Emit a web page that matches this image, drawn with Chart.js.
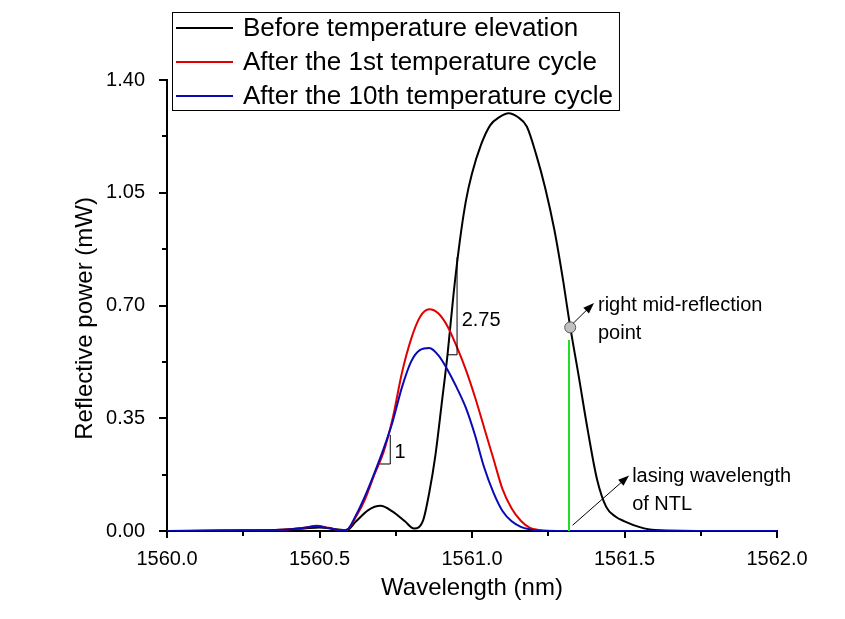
<!DOCTYPE html>
<html>
<head>
<meta charset="utf-8">
<script src="https://cdn.jsdelivr.net/npm/chart.js@4.4.0/dist/chart.umd.min.js"></script>
<style>
html, body { margin: 0; padding: 0; background: #fff; }
#wrap { width: 845px; height: 619px; }
</style>
</head>
<body>
<div id="wrap"><canvas id="spectrum" width="845" height="619"></canvas></div>
<script>
// series (wavelength in nm, power in mW)
const wlBefore = [1560.00, 1560.20, 1560.38, 1560.45, 1560.50, 1560.55, 1560.59, 1560.62, 1560.66, 1560.70,
    1560.74, 1560.78, 1560.81, 1560.84, 1560.86, 1560.88, 1560.90, 1560.92, 1560.94, 1560.96, 1560.98, 1561.00,
    1561.03, 1561.06, 1561.09, 1561.12, 1561.15, 1561.18, 1561.21, 1561.24, 1561.27, 1561.30, 1561.32, 1561.35,
    1561.38, 1561.41, 1561.44, 1561.47, 1561.50, 1561.55, 1561.60, 1561.80, 1562.00];
const pBefore = [0, 0.001, 0.004, 0.008, 0.011, 0.006, 0.003, 0.030, 0.065, 0.078,
    0.060, 0.030, 0.008, 0.034, 0.120, 0.235, 0.390, 0.550, 0.740, 0.900, 1.025, 1.110,
    1.200, 1.260, 1.285, 1.297, 1.285, 1.255, 1.170, 1.065, 0.935, 0.770, 0.645, 0.480,
    0.310, 0.160, 0.075, 0.045, 0.030, 0.012, 0.003, 0, 0];

const wlCycle1 = [1560.00, 1560.20, 1560.38, 1560.45, 1560.49, 1560.53, 1560.57, 1560.59, 1560.62, 1560.65,
    1560.68, 1560.71, 1560.74, 1560.77, 1560.80, 1560.83, 1560.86, 1560.89, 1560.92, 1560.95, 1560.98,
    1561.01, 1561.04, 1561.07, 1561.10, 1561.13, 1561.16, 1561.19, 1561.22, 1561.25, 1561.40, 1561.60, 1562.00];
const pCycle1 = [0, 0.001, 0.004, 0.010, 0.016, 0.010, 0.002, 0.004, 0.045, 0.100,
    0.175, 0.245, 0.350, 0.490, 0.595, 0.665, 0.688, 0.675, 0.635, 0.572, 0.500,
    0.415, 0.320, 0.225, 0.130, 0.070, 0.032, 0.010, 0.003, 0.001, 0, 0, 0];

const wlCycle10 = [1560.00, 1560.18, 1560.38, 1560.45, 1560.49, 1560.53, 1560.57, 1560.59, 1560.62, 1560.65,
    1560.68, 1560.71, 1560.74, 1560.77, 1560.80, 1560.83, 1560.86, 1560.89, 1560.92, 1560.95, 1560.98,
    1561.01, 1561.04, 1561.07, 1561.10, 1561.13, 1561.16, 1561.19, 1561.22, 1561.40, 1561.60, 1562.00];
const pCycle10 = [0, 0.002, 0.004, 0.010, 0.015, 0.009, 0.002, 0.004, 0.050, 0.110,
    0.180, 0.255, 0.340, 0.445, 0.525, 0.562, 0.568, 0.545, 0.500, 0.445, 0.382,
    0.297, 0.197, 0.120, 0.062, 0.030, 0.013, 0.005, 0.001, 0, 0, 0];

// lasing wavelength of the NTL and the right mid-reflection point
const wlLasing = [1561.318, 1561.318];
const pLasing = [0, 0.593];
const wlMidPoint = [1561.322];
const pMidPoint = [0.632];

// slope triangles drawn on the rising edges
const slopeSmallX = [1560.698, 1560.732, 1560.732];
const slopeSmallY = [0.208, 0.208, 0.298];
const slopeBigX = [1560.920, 1560.951, 1560.951];
const slopeBigY = [0.547, 0.547, 0.850];

const xTicks = [1560.0, 1560.5, 1561.0, 1561.5, 1562.0];
const yTicks = [0.00, 0.35, 0.70, 1.05, 1.40];

const seriesNames = ['Before temperature elevation', 'After the 1st temperature cycle', 'After the 10th temperature cycle'];
const xTitle = 'Wavelength (nm)';
const yTitle = 'Reflective power (mW)';

const FONT = '"Liberation Sans", Arial, sans-serif';

function toPoints(xs, ys) {
    return xs.map((x, i) => ({ x: x, y: ys[i] }));
}

function arrow(ctx, x1, y1, x2, y2) {
    const a = Math.atan2(y2 - y1, x2 - x1);
    ctx.beginPath();
    ctx.moveTo(x1, y1);
    ctx.lineTo(x2 - 6 * Math.cos(a), y2 - 6 * Math.sin(a));
    ctx.stroke();
    ctx.beginPath();
    ctx.moveTo(x2, y2);
    ctx.lineTo(x2 - 11 * Math.cos(a) + 4 * Math.sin(a), y2 - 11 * Math.sin(a) - 4 * Math.cos(a));
    ctx.lineTo(x2 - 11 * Math.cos(a) - 4 * Math.sin(a), y2 - 11 * Math.sin(a) + 4 * Math.cos(a));
    ctx.closePath();
    ctx.fill();
}

// minor ticks halfway between the labelled ones
const minorTicks = {
    id: 'minorTicks',
    afterDraw(chart) {
        const ctx = chart.ctx;
        const xs = chart.scales.x, ys = chart.scales.y;
        ctx.save();
        ctx.strokeStyle = '#000';
        ctx.lineWidth = 2;
        for (let i = 0; i < xTicks.length - 1; i++) {
            const px = Math.round(xs.getPixelForValue((xTicks[i] + xTicks[i + 1]) / 2));
            ctx.beginPath();
            ctx.moveTo(px, ys.bottom);
            ctx.lineTo(px, ys.bottom + 5);
            ctx.stroke();
        }
        for (let i = 0; i < yTicks.length - 1; i++) {
            const py = Math.round(ys.getPixelForValue((yTicks[i] + yTicks[i + 1]) / 2));
            ctx.beginPath();
            ctx.moveTo(xs.left, py);
            ctx.lineTo(xs.left - 5, py);
            ctx.stroke();
        }
        // y title, centred a little below the middle of the axis as in the original
        ctx.fillStyle = '#000';
        ctx.font = '24px ' + FONT;
        ctx.textAlign = 'center';
        ctx.textBaseline = 'middle';
        ctx.translate(85, ys.getPixelForValue(0.66));
        ctx.rotate(-Math.PI / 2);
        ctx.fillText(yTitle, 0, 0);
        ctx.restore();
    }
};

// text labels and arrows placed in data coordinates
const notes = {
    id: 'notes',
    afterDatasetsDraw(chart) {
        const ctx = chart.ctx;
        const xs = chart.scales.x, ys = chart.scales.y;
        const X = v => xs.getPixelForValue(v);
        const Y = v => ys.getPixelForValue(v);
        ctx.save();
        ctx.fillStyle = '#000';
        ctx.strokeStyle = '#000';
        ctx.lineWidth = 1;
        ctx.textBaseline = 'middle';
        ctx.font = '20px ' + FONT;
        ctx.fillText('2.75', X(1560.966), Y(0.652));
        ctx.fillText('1', X(1560.746), Y(0.245));
        ctx.fillText('right mid-reflection', X(1561.413), Y(0.699));
        ctx.fillText('point', X(1561.413), Y(0.613));
        ctx.fillText('lasing wavelength', X(1561.525), Y(0.168));
        ctx.fillText('of NTL', X(1561.525), Y(0.081));
        arrow(ctx, X(1561.332), Y(0.645), X(1561.400), Y(0.708));
        arrow(ctx, X(1561.330), Y(0.018), X(1561.515), Y(0.172));
        ctx.restore();
    }
};

const boxLegend = {
    id: 'boxLegend',
    afterDraw(chart) {
        const ctx = chart.ctx;
        const sets = chart.data.datasets.slice(0, 3);
        ctx.save();
        ctx.font = '26px ' + FONT;
        let w = 0;
        sets.forEach(d => { w = Math.max(w, ctx.measureText(d.label).width); });
        const x0 = 172, y0 = 12, rowH = 34;
        const bw = 71 + w + 6, bh = 98;
        ctx.fillStyle = '#fff';
        ctx.fillRect(x0, y0, bw, bh);
        ctx.strokeStyle = '#000';
        ctx.lineWidth = 1;
        ctx.strokeRect(x0 + 0.5, y0 + 0.5, bw, bh);
        ctx.textBaseline = 'middle';
        sets.forEach((d, i) => {
            const y = y0 + 16 + i * rowH;
            ctx.strokeStyle = d.borderColor;
            ctx.lineWidth = 2;
            ctx.beginPath();
            ctx.moveTo(x0 + 4, y);
            ctx.lineTo(x0 + 61, y);
            ctx.stroke();
            ctx.fillStyle = '#000';
            ctx.fillText(d.label, x0 + 71, y + 1);
        });
        ctx.restore();
    }
};

const curve = (label, xs, ys, color, order) => ({
    label: label,
    data: toPoints(xs, ys),
    borderColor: color,
    borderWidth: 2,
    pointRadius: 0,
    cubicInterpolationMode: 'monotone',
    order: order
});

const thin = (xs, ys, color, width) => ({
    label: '',
    data: toPoints(xs, ys),
    borderColor: color,
    borderWidth: width,
    pointRadius: 0,
    tension: 0,
    order: 0
});

Chart.defaults.font.family = FONT;
Chart.defaults.color = '#000';

new Chart(document.getElementById('spectrum'), {
    type: 'line',
    data: {
        datasets: [
            curve(seriesNames[0], wlBefore, pBefore, '#000000', 3),
            curve(seriesNames[1], wlCycle1, pCycle1, '#e00000', 2),
            curve(seriesNames[2], wlCycle10, pCycle10, '#0a0ab4', 1),
            thin(wlLasing, pLasing, '#22dd22', 2),
            thin(slopeSmallX, slopeSmallY, '#000000', 1),
            thin(slopeBigX, slopeBigY, '#000000', 1),
            {
                label: '',
                data: toPoints(wlMidPoint, pMidPoint),
                showLine: false,
                pointRadius: 5.5,
                pointBackgroundColor: '#c0c0c0',
                pointBorderColor: '#555555',
                pointBorderWidth: 1,
                order: 0
            }
        ]
    },
    options: {
        responsive: false,
        animation: false,
        devicePixelRatio: 1,
        layout: { padding: { top: 80, right: 68, left: 0, bottom: 0 } },
        plugins: {
            legend: { display: false },
            tooltip: { enabled: false }
        },
        scales: {
            x: {
                type: 'linear',
                min: 1560,
                max: 1562,
                afterFit: s => { s.height = 88; },
                afterBuildTicks: s => { s.ticks = xTicks.map(v => ({ value: v })); },
                ticks: {
                    font: { size: 20 },
                    padding: 9,
                    maxRotation: 0,
                    callback: v => v.toFixed(1)
                },
                grid: { drawOnChartArea: false, drawTicks: true, tickLength: 7, color: '#000', lineWidth: 2 },
                border: { display: true, color: '#000', width: 2 },
                title: { display: true, text: xTitle, font: { size: 24 }, padding: { bottom: 16 } }
            },
            y: {
                min: 0,
                max: 1.4,
                afterFit: s => { s.width = 167; },
                afterBuildTicks: s => { s.ticks = yTicks.map(v => ({ value: v })); },
                ticks: {
                    font: { size: 20 },
                    padding: 14,
                    callback: v => v.toFixed(2)
                },
                grid: { drawOnChartArea: false, drawTicks: true, tickLength: 8, color: '#000', lineWidth: 2 },
                border: { display: true, color: '#000', width: 2 }
            }
        }
    },
    plugins: [minorTicks, notes, boxLegend]
});
</script>
</body>
</html>
